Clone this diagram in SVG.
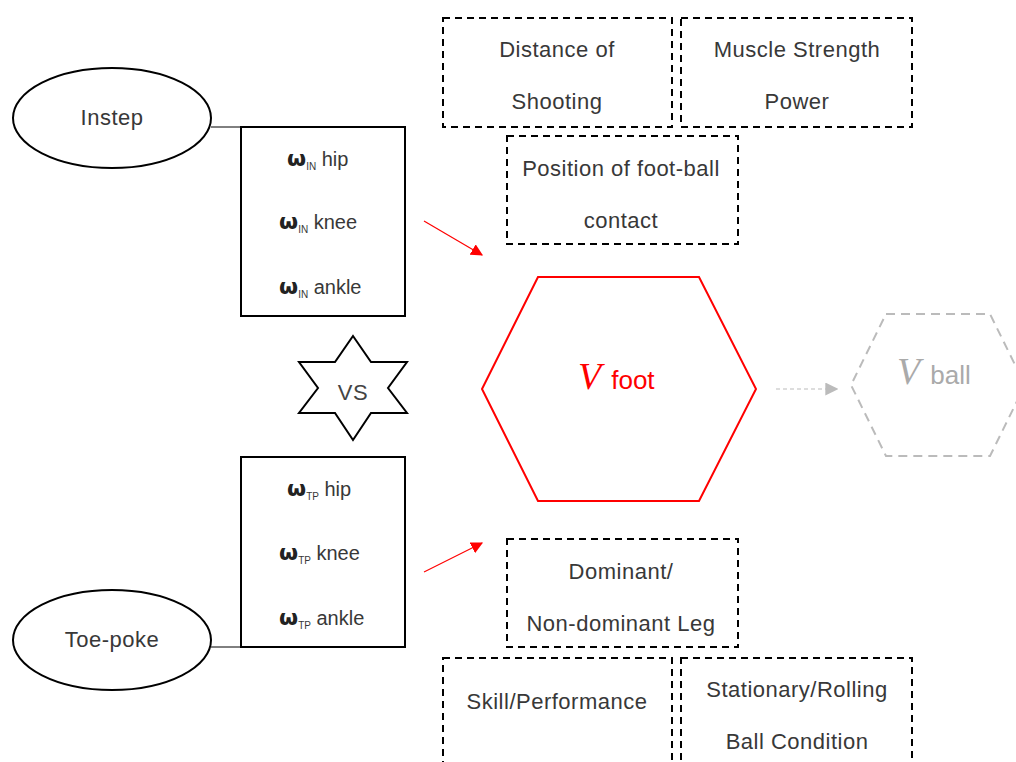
<svg xmlns="http://www.w3.org/2000/svg" width="1016" height="762" viewBox="0 0 1016 762">
<defs>
<style>
.t{font-family:"Liberation Sans",Arial,sans-serif;font-size:22px;letter-spacing:0.5px;fill:#383838;text-anchor:middle}
.w{font-family:"Liberation Sans",Arial,sans-serif;font-size:20px;fill:#383838}
.om{font-family:"DejaVu Sans",sans-serif;font-size:22px;font-weight:bold;fill:#222}
.sub{font-size:10px}
.box{fill:#fff;stroke:#000;stroke-width:2}
.dbox{fill:#fff;stroke:#000;stroke-width:2;stroke-dasharray:7,5}
.ell{fill:#fff;stroke:#000;stroke-width:2}
.V{font-family:"Liberation Serif","Times New Roman",serif;font-style:italic;font-size:38px}
.lbl{font-family:"Liberation Sans",Arial,sans-serif;font-size:26px}
</style>
<marker id="ar" viewBox="0 0 10 10" refX="9" refY="5" markerWidth="12" markerHeight="12" orient="auto" markerUnits="userSpaceOnUse"><path d="M0,0 L10,5 L0,10 z" fill="#f00"/></marker>
<marker id="ag" viewBox="0 0 10 10" refX="9" refY="5" markerWidth="13" markerHeight="13" orient="auto" markerUnits="userSpaceOnUse"><path d="M0,0 L10,5 L0,10 z" fill="#bbb"/></marker>
</defs>
<g id="connectors">
<line x1="211" y1="127" x2="241" y2="127" stroke="#000" stroke-width="1"/>
<line x1="211" y1="647" x2="241" y2="647" stroke="#000" stroke-width="1"/>
<line x1="424" y1="221" x2="482" y2="255" stroke="#f00" stroke-width="1.2" marker-end="url(#ar)"/>
<line x1="424" y1="572" x2="482" y2="543" stroke="#f00" stroke-width="1.2" marker-end="url(#ar)"/>
<line x1="776" y1="389" x2="837" y2="389" stroke="#bbb" stroke-width="1.2" stroke-dasharray="4,3" marker-end="url(#ag)"/>
</g>
<g id="instep">
<ellipse class="ell" cx="112" cy="118" rx="99" ry="50"/>
<text class="t" x="112" y="125">Instep</text>
</g>
<g id="toepoke">
<ellipse class="ell" cx="112" cy="640" rx="99" ry="50"/>
<text class="t" x="112" y="647">Toe-poke</text>
</g>
<g id="box-in">
<rect class="box" x="241" y="127" width="164" height="189"/>
<text x="287" y="166" class="w"><tspan class="om">ω</tspan><tspan class="sub" dy="4">IN</tspan><tspan dy="-4"> hip</tspan></text>
<text x="279" y="229" class="w"><tspan class="om">ω</tspan><tspan class="sub" dy="4">IN</tspan><tspan dy="-4"> knee</tspan></text>
<text x="279" y="294" class="w"><tspan class="om">ω</tspan><tspan class="sub" dy="4">IN</tspan><tspan dy="-4"> ankle</tspan></text>
</g>
<g id="box-tp">
<rect class="box" x="241" y="457" width="164" height="190"/>
<text x="287" y="496" class="w"><tspan class="om">ω</tspan><tspan class="sub" dy="4">TP</tspan><tspan dy="-4"> hip</tspan></text>
<text x="279" y="560" class="w"><tspan class="om">ω</tspan><tspan class="sub" dy="4">TP</tspan><tspan dy="-4"> knee</tspan></text>
<text x="279" y="625" class="w"><tspan class="om">ω</tspan><tspan class="sub" dy="4">TP</tspan><tspan dy="-4"> ankle</tspan></text>
</g>
<g id="vs">
<polygon points="353,336 371,362 407,362 388,388 407,413 371,413 353,440 335,413 299,413 318,388 299,362 335,362" fill="#fff" stroke="#000" stroke-width="2"/>
<text class="t" x="353" y="400" style="fill:#444">VS</text>
</g>
<g id="vfoot">
<polygon points="538,277 699,277 756,389 699,501 538,501 482,389" fill="#fff" stroke="#f00" stroke-width="2"/>
<text x="578" y="389" fill="#f00"><tspan class="V">V</tspan><tspan class="lbl" dx="10">foot</tspan></text>
</g>
<g id="vball">
<polygon points="886,314 990,314 1025,385 990,456 886,456 851,385" fill="#fff" stroke="#bbb" stroke-width="2" stroke-dasharray="9,6"/>
<text x="897" y="384" fill="#aaa"><tspan class="V">V</tspan><tspan class="lbl" dx="10">ball</tspan></text>
</g>
<g id="distance">
<rect class="dbox" x="443" y="18" width="229" height="109"/>
<text class="t" x="557" y="57">Distance of</text>
<text class="t" x="557" y="109">Shooting</text>
</g>
<g id="muscle">
<rect class="dbox" x="681" y="18" width="231" height="109"/>
<text class="t" x="797" y="57">Muscle Strength</text>
<text class="t" x="797" y="109">Power</text>
</g>
<g id="position">
<rect class="dbox" x="507" y="136" width="231" height="108"/>
<text class="t" x="621" y="176">Position of foot-ball</text>
<text class="t" x="621" y="228">contact</text>
</g>
<g id="dominant">
<rect class="dbox" x="507" y="539" width="231" height="108"/>
<text class="t" x="621" y="579">Dominant/</text>
<text class="t" x="621" y="631">Non-dominant Leg</text>
</g>
<g id="skill">
<rect class="dbox" x="443" y="658" width="229" height="120"/>
<text class="t" x="557" y="709">Skill/Performance</text>
</g>
<g id="stationary">
<rect class="dbox" x="681" y="658" width="231" height="120"/>
<text class="t" x="797" y="697">Stationary/Rolling</text>
<text class="t" x="797" y="749">Ball Condition</text>
</g>
</svg>
